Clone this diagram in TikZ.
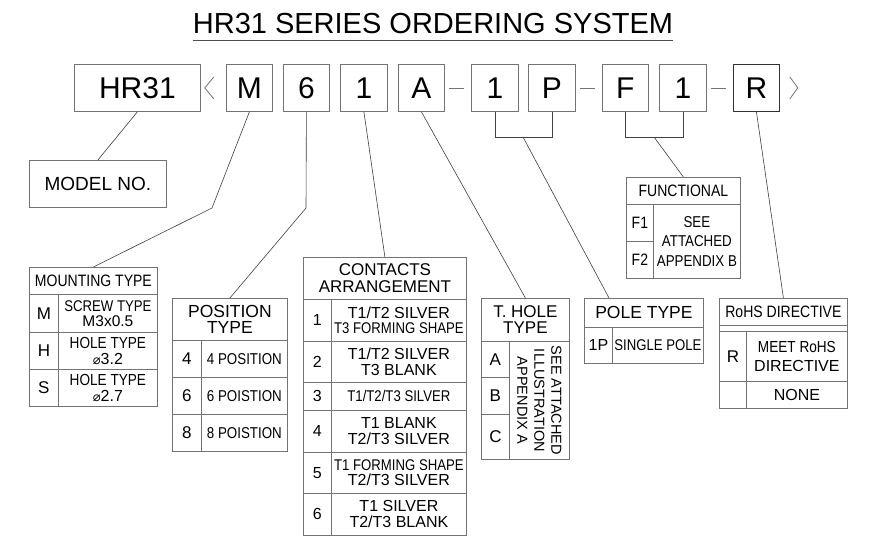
\documentclass[tikz,border=0pt]{standalone}
\usepackage{fontspec}
\setmainfont{Liberation Sans}
\newfontfamily\fN[FakeStretch=0.85]{Liberation Sans}
\newfontfamily\djv{DejaVu Sans}
\newcommand\sz[2]{\fontsize{#1pt}{#2pt}\selectfont}
\definecolor{lc}{gray}{0.45}
\definecolor{cc}{gray}{0.25}
\begin{document}
\begin{tikzpicture}[x=1pt,y=-1pt,
 cell/.style={draw=lc, line width=0.8pt, inner sep=0pt, anchor=north west, align=center},
 wh/.style 2 args={minimum width=#1pt, minimum height=#2pt},
 topbox/.style={cell, font=\sz{30}{32}},
 conn/.style={draw=cc, line width=0.6pt},
 sepline/.style={draw=lc, line width=0.8pt},
]
\useasboundingbox (0,0) rectangle (874,542);
\fill[white] (0,0) rectangle (874,542);

% title
\node[inner sep=0pt, anchor=base, font=\sz{29}{30}] (title) at (433,33) {HR31 SERIES ORDERING SYSTEM};
\draw[black!70, line width=0.8pt] ([yshift=-7pt]title.base west) -- ([yshift=-7pt]title.base east);

% top row
\node[topbox, wh={126}{47}] (hHR) at (74,64) {HR31};
\node[topbox, wh={46}{47}] (hM) at (226,64) {M};
\node[topbox, wh={46}{47}] (h6) at (283,64) {6};
\node[topbox, wh={47}{47}] (h1a) at (340,64) {1};
\node[topbox, wh={46}{47}] (hA) at (398,64) {A};
\node[topbox, wh={47}{47}] (h1b) at (471,64) {1};
\node[topbox, wh={47}{47}] (hP) at (528,64) {P};
\node[topbox, wh={46}{47}] (hF) at (602,64) {F};
\node[topbox, wh={47}{47}] (h1c) at (659,64) {1};
\node[topbox, wh={46}{47}, draw=black!80] (hR) at (733,64) {R};

\draw[sepline] ([xshift=13pt,yshift=11pt]hHR.east) -- ([xshift=4pt]hHR.east) -- ([xshift=13pt,yshift=-11pt]hHR.east);
\draw[sepline] ([xshift=10pt,yshift=11pt]hR.east) -- ([xshift=18pt]hR.east) -- ([xshift=10pt,yshift=-11pt]hR.east);
\draw[sepline] ([xshift=4pt]hA.east) -- ([xshift=-7pt]h1b.west);
\draw[sepline] ([xshift=4pt]hP.east) -- ([xshift=-7pt]hF.west);
\draw[sepline] ([xshift=4pt]h1c.east) -- ([xshift=-7pt]hR.west);

% model no
\node[cell, wh={137}{47}, font=\sz{19}{20}] (mdl) at (29,160) {MODEL NO.};

% mounting type
\node[cell, wh={128}{27}, font=\fN\sz{16.5}{17}] (mth) at (29,267) {MOUNTING TYPE};
\node[cell, wh={29}{38}, font=\sz{17}{18}] (mtM) at (29,294) {M};
\node[cell, wh={99}{38}, font=\sz{15.5}{15}] (mtMx) at (58,294) {{\fN SCREW TYPE}\\M3x0.5};
\node[cell, wh={29}{37}, font=\sz{17}{18}] (mtH) at (29,332) {H};
\node[cell, wh={99}{37}, font=\sz{16}{15.5}] (mtHx) at (58,332) {{\fN HOLE TYPE}\\{\djv\fontsize{13pt}{15.5pt}\selectfont ⌀}3.2};
\node[cell, wh={29}{37}, font=\sz{17}{18}] (mtS) at (29,369) {S};
\node[cell, wh={99}{37}, font=\sz{16}{15.5}] (mtSx) at (58,369) {{\fN HOLE TYPE}\\{\djv\fontsize{13pt}{15.5pt}\selectfont ⌀}2.7};

% position type
\node[cell, wh={115}{42}, font=\sz{17.5}{16}] (pth) at (172,298) {POSITION\\TYPE};
\node[cell, wh={29}{37}, font=\sz{17}{18}] (p4) at (172,340) {4};
\node[cell, wh={86}{37}, font=\fN\sz{15.7}{17}] (p4x) at (201,340) {4 POSITION};
\node[cell, wh={29}{37}, font=\sz{17}{18}] (p6) at (172,377) {6};
\node[cell, wh={86}{37}, font=\fN\sz{15.7}{17}] (p6x) at (201,377) {6 POISTION};
\node[cell, wh={29}{37}, font=\sz{17}{18}] (p8) at (172,414) {8};
\node[cell, wh={86}{37}, font=\fN\sz{15.7}{17}] (p8x) at (201,414) {8 POISTION};

% contacts arrangement
\node[cell, wh={163}{42}, font=\sz{17}{17}] (cah) at (303,257) {CONTACTS\\ARRANGEMENT};
\node[cell, wh={28}{42}, font=\sz{16}{17}] (c1) at (303,299) {1};
\node[cell, wh={135}{42}, font=\sz{16}{15.5}] (c1x) at (331,299) {T1/T2 SILVER\\{\fN\fontsize{15.5pt}{15.5pt}\selectfont T3 FORMING SHAPE}};
\node[cell, wh={28}{41}, font=\sz{16}{17}] (c2) at (303,341) {2};
\node[cell, wh={135}{41}, font=\sz{16}{16.5}] (c2x) at (331,341) {T1/T2 SILVER\\T3 BLANK};
\node[cell, wh={28}{28}, font=\sz{16}{17}] (c3) at (303,382) {3};
\node[cell, wh={135}{28}, font=\fN\sz{15.5}{17}] (c3x) at (331,382) {T1/T2/T3 SILVER};
\node[cell, wh={28}{42}, font=\sz{16}{17}] (c4) at (303,410) {4};
\node[cell, wh={135}{42}, font=\sz{16}{16}] (c4x) at (331,410) {T1 BLANK\\T2/T3 SILVER};
\node[cell, wh={28}{41}, font=\sz{16}{17}] (c5) at (303,452) {5};
\node[cell, wh={135}{41}, font=\sz{16}{15.5}] (c5x) at (331,452) {{\fN\fontsize{15.5pt}{15.5pt}\selectfont T1 FORMING SHAPE}\\T2/T3 SILVER};
\node[cell, wh={28}{42}, font=\sz{16}{17}] (c6) at (303,493) {6};
\node[cell, wh={135}{42}, font=\sz{16}{16}] (c6x) at (331,493) {T1 SILVER\\T2/T3 BLANK};

% T. hole type
\node[cell, wh={88}{43}, font=\sz{17}{16}] (th) at (481,298) {T. HOLE\\TYPE};
\node[cell, wh={28}{36}, font=\sz{17}{18}] (tA) at (481,341) {A};
\node[cell, wh={28}{37}, font=\sz{17}{18}] (tB) at (481,377) {B};
\node[cell, wh={28}{45}, font=\sz{17}{18}] (tC) at (481,414) {C};
\node[cell, wh={60}{118}] (thx) at (509,341) {};
\node[rotate=-90, align=center, inner sep=0pt, font=\sz{14.5}{17}] (thxt) at (thx.center) {SEE ATTACHED\\ILLUSTRATION\\APPENDIX A};

% pole type
\node[cell, wh={119}{29}, font=\sz{17.5}{18}] (ph) at (584,298) {POLE TYPE};
\node[cell, wh={28}{36}, font=\sz{16}{17}] (pl1) at (584,327) {1P};
\node[cell, wh={91}{36}, font=\fN\sz{15.5}{17}] (pl1x) at (612,327) {SINGLE POLE};

% functional
\node[cell, wh={114}{27}, font=\fN\sz{16.5}{17}] (fh) at (626,177) {FUNCTIONAL};
\node[cell, wh={27}{37}, font=\fN\sz{16.5}{17}] (f1) at (626,204) {F1};
\node[cell, wh={27}{37}, font=\fN\sz{16.5}{17}] (f2) at (626,241) {F2};
\node[cell, wh={87}{74}, font=\fN\sz{15.7}{19.5}] (fx) at (653,204) {SEE\\ATTACHED\\APPENDIX B};

% RoHS
\node[cell, wh={128}{27}, font=\fN\sz{16.5}{17}] (rh) at (719,298) {RoHS DIRECTIVE};
\draw[sepline] (rh.south west) -- ([yshift=-6pt]rh.south west) -- ([yshift=-6pt]rh.south east) -- (rh.south east);
\node[cell, wh={27}{50}, font=\sz{17}{18}] (rR) at (719,331) {R};
\node[cell, wh={101}{50}, font=\sz{16}{19}] (rRx) at (746,331) {{\fN MEET RoHS}\\DIRECTIVE};
\node[cell, wh={27}{27}] (rN) at (719,381) {};
\node[cell, wh={101}{27}, font=\sz{16}{17}] (rNx) at (746,381) {NONE};

% connectors
\draw[conn] (hHR.south) -- (mdl.north);
\coordinate (bM) at (212,208);
\draw[conn] (hM.south) -- (bM) -- (mth.north);
\coordinate (b6) at (306,208);
\draw[conn] (h6.south) -- (b6) -- (pth.north);
\draw[conn] (h1a.south) -- (cah.north);
\draw[conn] (hA.south) -- (th.north);
\coordinate (brP) at (523,137);
\coordinate (poin) at (609,298);
\draw[conn] (h1b.south) -- (h1b.south |- brP) -- (hP.south |- brP) -- (hP.south);
\draw[conn] (brP) -- (poin);
\coordinate (brF) at (654,137);
\draw[conn] (hF.south) -- (hF.south |- brF) -- (h1c.south |- brF) -- (h1c.south);
\draw[conn] (brF) -- (fh.north);
\draw[conn] (hR.south) -- (rh.north);
\end{tikzpicture}
\end{document}
